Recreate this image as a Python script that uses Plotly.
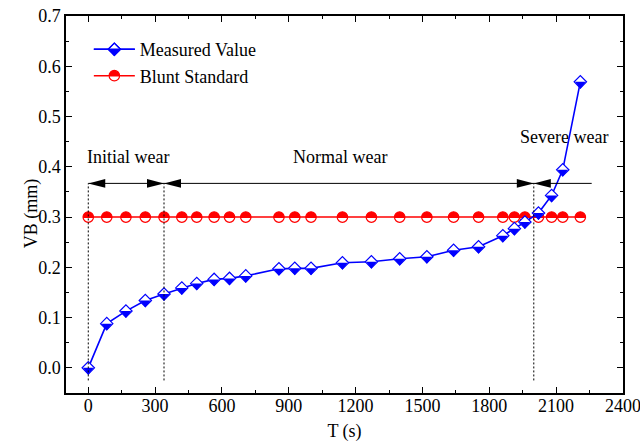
import plotly.graph_objects as go

# ---------------- data ----------------
T_S = [0, 83, 169, 256, 340, 420, 487, 565, 634, 707, 856, 927, 1000, 1141,
       1271, 1398, 1520, 1640, 1752, 1861, 1913, 1960, 2021, 2080, 2130, 2209]
VB_MEASURED = [0.000, 0.088, 0.113, 0.134, 0.147, 0.159, 0.168, 0.176, 0.178,
               0.183, 0.197, 0.198, 0.198, 0.209, 0.211, 0.217, 0.221, 0.234,
               0.241, 0.263, 0.277, 0.290, 0.308, 0.343, 0.394, 0.569]
VB_BLUNT = [0.3, 0.3, 0.3, 0.3, 0.3, 0.3, 0.3, 0.3, 0.3, 0.3, 0.3, 0.3, 0.3,
            0.3, 0.3, 0.3, 0.3, 0.3, 0.3, 0.3, 0.3, 0.3, 0.3, 0.3, 0.3, 0.3]
SERIES_NAMES = ["Measured Value", "Blunt Standard"]

X_TICKS = [0, 300, 600, 900, 1200, 1500, 1800, 2100, 2400]
Y_TICKS = [0.0, 0.1, 0.2, 0.3, 0.4, 0.5, 0.6, 0.7]

PHASE_BOUNDS = [0, 340, 2000]          # wear stage boundaries (s)
PHASE_LINE_END = 2260                  # end of the stage arrow line (s)
PHASE_ARROW_Y = 0.367                  # VB level of the stage arrows
PHASE_VLINE_BOTTOM = -0.025
PHASE_LABELS = ["Initial wear", "Normal wear", "Severe wear"]
PHASE_LABEL_X = [180, 1129, 2135]
PHASE_LABEL_Y = [0.42, 0.42, 0.46]

# ---------------- style ----------------
FONT = "Liberation Serif"
BLUE = "#0000FF"
RED = "#FF0000"
D_SIZE = 9.5                     # diamond marker size
HALF_D = 0.65 * D_SIZE           # half extent of the diamond
FILL_SIZE = 1.5 * HALF_D         # triangle filling the lower half
FILL_OFF = FILL_SIZE / 4         # shift so the flat side sits on the centre
C_SIZE = 10.5                    # circle marker size
COVER_OFF = C_SIZE / 4 + 0.9
N = len(T_S)

fig = go.Figure()

# ---- Blunt standard (red, upper half filled) ----
fig.add_trace(go.Scatter(
    x=T_S, y=VB_BLUNT, mode="lines+markers", name=SERIES_NAMES[1],
    line=dict(color=RED, width=1.5),
    marker=dict(symbol="circle", size=C_SIZE, color=RED, line=dict(width=0)),
    legend="legend", legendrank=2))
fig.add_trace(go.Scatter(
    x=T_S, y=VB_BLUNT, mode="markers", showlegend=False, hoverinfo="skip",
    marker=dict(symbol="triangle-down", size=C_SIZE, color="white",
                standoff=[COVER_OFF] * N, line=dict(width=0))))
fig.add_trace(go.Scatter(
    x=T_S, y=VB_BLUNT, mode="markers", showlegend=False, hoverinfo="skip",
    marker=dict(symbol="circle-open", size=C_SIZE, color=RED,
                line=dict(width=1.2))))

# ---- Measured value (blue, lower half filled) ----
fig.add_trace(go.Scatter(
    x=T_S, y=VB_MEASURED, mode="lines+markers", name=SERIES_NAMES[0],
    line=dict(color=BLUE, width=1.6),
    marker=dict(symbol="diamond", size=D_SIZE, color="white",
                line=dict(color=BLUE, width=1.2)),
    legend="legend", legendrank=1))
fig.add_trace(go.Scatter(
    x=T_S, y=VB_MEASURED, mode="markers", showlegend=False, hoverinfo="skip",
    marker=dict(symbol="triangle-down", size=FILL_SIZE, color=BLUE,
                standoff=[FILL_OFF] * N, line=dict(width=0))))

# ---- legend overlays (half-filled symbols) ----
fig.add_trace(go.Scatter(
    x=[None], y=[None], mode="markers", name=SERIES_NAMES[0], legend="legend2",
    legendrank=1, hoverinfo="skip",
    marker=dict(symbol="triangle-up", angle=180, size=FILL_SIZE, color=BLUE,
                standoff=FILL_OFF, line=dict(width=0))))
fig.add_trace(go.Scatter(
    x=[None], y=[None], mode="markers", name=SERIES_NAMES[1], legend="legend2",
    legendrank=2, hoverinfo="skip",
    marker=dict(symbol="triangle-up", angle=180, size=C_SIZE, color="white",
                standoff=COVER_OFF, line=dict(width=0))))
fig.add_trace(go.Scatter(
    x=[None], y=[None], mode="lines+markers", name=SERIES_NAMES[0],
    legend="legend3", legendrank=1, hoverinfo="skip",
    line=dict(color=BLUE, width=1.6),
    marker=dict(symbol="diamond-open", size=D_SIZE, color=BLUE,
                line=dict(width=1.2))))
fig.add_trace(go.Scatter(
    x=[None], y=[None], mode="markers", name=SERIES_NAMES[1],
    legend="legend3", legendrank=2, hoverinfo="skip",
    marker=dict(symbol="circle-open", size=C_SIZE, color=RED,
                line=dict(width=1.2))))

# ---- stage boundary lines and arrows ----
shapes = []
for b in PHASE_BOUNDS:
    shapes.append(dict(type="line", xref="x", yref="y", x0=b, x1=b,
                       y0=PHASE_VLINE_BOTTOM, y1=PHASE_ARROW_Y,
                       line=dict(color="black", width=1, dash="2px,2px")))
shapes.append(dict(type="line", xref="x", yref="y", x0=PHASE_BOUNDS[0],
                   x1=PHASE_LINE_END, y0=PHASE_ARROW_Y, y1=PHASE_ARROW_Y,
                   line=dict(color="black", width=1)))
AH_L, AH_W = 17, 4.3
left_head = f"M0,0 L{AH_L},{AH_W} L{AH_L},{-AH_W} Z"
right_head = f"M0,0 L{-AH_L},{AH_W} L{-AH_L},{-AH_W} Z"
heads = [(PHASE_BOUNDS[0], left_head), (PHASE_BOUNDS[1], right_head),
         (PHASE_BOUNDS[1], left_head), (PHASE_BOUNDS[2], right_head),
         (PHASE_BOUNDS[2], left_head)]
for xa, p in heads:
    shapes.append(dict(type="path", xref="x", yref="y", xsizemode="pixel",
                       ysizemode="pixel", xanchor=xa, yanchor=PHASE_ARROW_Y,
                       path=p, fillcolor="black", line=dict(width=0)))

annotations = []
for lab, lx, ly in zip(PHASE_LABELS, PHASE_LABEL_X, PHASE_LABEL_Y):
    annotations.append(dict(x=lx, y=ly, xref="x", yref="y", text=lab,
                            showarrow=False,
                            font=dict(family=FONT, size=18, color="black")))
# y-axis title
annotations.append(dict(x=-0.085, y=0.477, xref="paper", yref="paper",
                        text="VB (mm)", textangle=-90, showarrow=False,
                        font=dict(family=FONT, size=18, color="black")))

axis_common = dict(
    showline=True, linecolor="black", linewidth=1.5, mirror="allticks",
    ticks="inside", ticklen=6, tickwidth=1.2, tickcolor="black",
    showgrid=False, zeroline=False, automargin=False,
    ticklabeloverflow="allow",
    tickfont=dict(family=FONT, size=18, color="black"),
)

legend_common = dict(x=0.041, y=0.960, xanchor="left", yanchor="top",
                     bgcolor="rgba(0,0,0,0)", borderwidth=0,
                     tracegroupgap=0, itemsizing="trace", itemwidth=41)

fig.update_layout(
    width=640, height=442,
    margin=dict(l=66, r=17, t=16, b=49),
    paper_bgcolor="white", plot_bgcolor="white",
    font=dict(family=FONT, size=18, color="black"),
    xaxis=dict(range=[-100, 2400.5], tickvals=X_TICKS,
               ticktext=[str(v) for v in X_TICKS], ticklabelstandoff=-4,
               minor=dict(dtick=150, tick0=0, ticks="inside", ticklen=3.5,
                          tickwidth=1.2, tickcolor="black"),
               title=dict(text="T (s)", font=dict(family=FONT, size=18),
                          standoff=11),
               **axis_common),
    yaxis=dict(range=[-0.05, 0.7], tickvals=Y_TICKS,
               ticktext=[f"{v:.1f}" for v in Y_TICKS],
               minor=dict(dtick=0.05, tick0=0, ticks="inside", ticklen=3.5,
                          tickwidth=1.2, tickcolor="black"),
               **axis_common),
    legend=dict(font=dict(family=FONT, size=18, color="black"), **legend_common),
    legend2=dict(font=dict(family=FONT, size=18, color="rgba(0,0,0,0)"),
                 **legend_common),
    legend3=dict(font=dict(family=FONT, size=18, color="rgba(0,0,0,0)"),
                 **legend_common),
    shapes=shapes,
    annotations=annotations,
    showlegend=True,
)

fig.write_html("out.html")
